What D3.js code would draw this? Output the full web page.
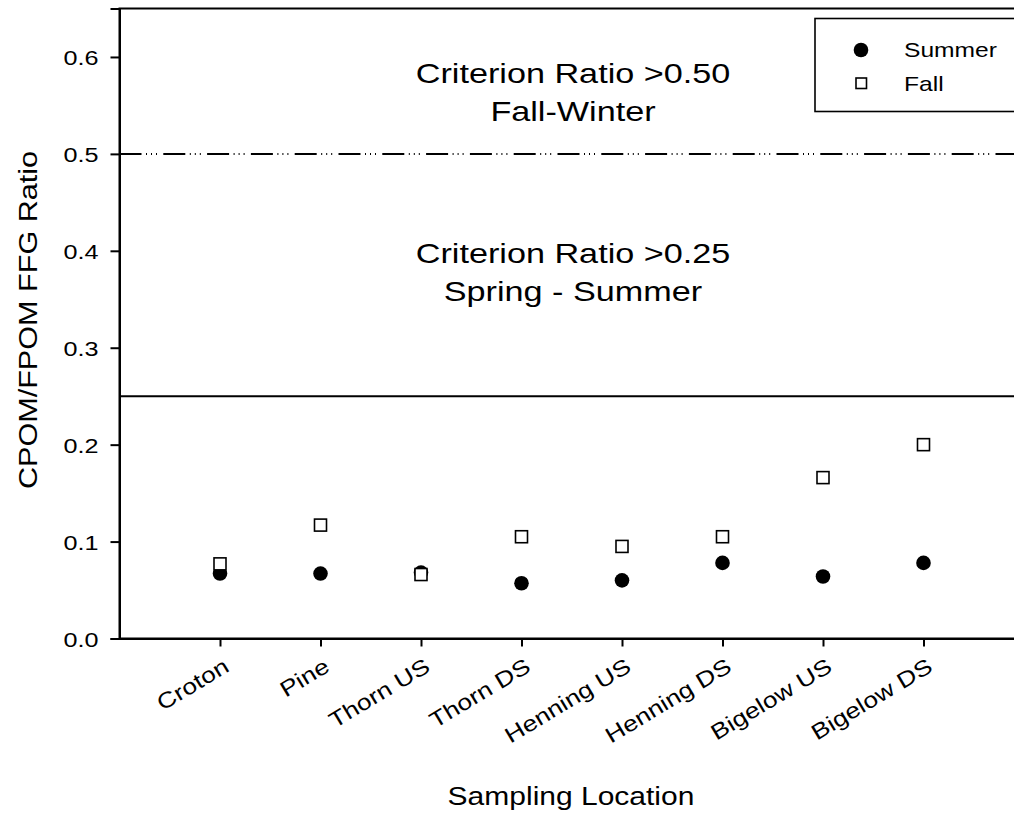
<!DOCTYPE html>
<html>
<head>
<meta charset="utf-8">
<script src="https://cdn.jsdelivr.net/npm/d3@7"></script>
<style>
  html, body { margin: 0; padding: 0; background: #fff; }
  svg { display: block; }
  text { font-family: "Liberation Sans", Arial, Helvetica, sans-serif; fill: #000; }
</style>
</head>
<body>
<svg id="chart" width="1014" height="819"></svg>
<script>
// Sampling sites along the x axis
const locations = ["Croton", "Pine", "Thorn US", "Thorn DS", "Henning US", "Henning DS", "Bigelow US", "Bigelow DS"];
// CPOM/FPOM functional feeding group ratios
const summerRatio = [0.067, 0.067, 0.068, 0.057, 0.060, 0.078, 0.064, 0.078];
const fallRatio   = [0.077, 0.117, 0.066, 0.105, 0.095, 0.105, 0.166, 0.200];
// Y axis ticks
const yTicks = [0.0, 0.1, 0.2, 0.3, 0.4, 0.5, 0.6];
// Seasonal criterion thresholds
const springSummerCriterion = 0.25;
const fallWinterCriterion = 0.50;
const seriesNames = ["Summer", "Fall"];

const svg = d3.select("#chart");
const STRETCH = 1.2; // glyphs are drawn wide

const plotLeft = 119.5, plotRight = 1024, plotTop = 8.5, plotBottom = 638.5;

const x = d3.scaleLinear().domain([0, locations.length + 1]).range([plotLeft, plotRight]);
const y = d3.scaleLinear().domain([0, 0.65]).range([plotBottom, plotTop]);

function wideText(g, str, tx, ty, size, anchor, rot) {
  return g.append("text")
    .attr("transform", `translate(${tx},${ty}) rotate(${rot || 0}) scale(${STRETCH},1)`)
    .attr("text-anchor", anchor)
    .style("font-size", size + "px")
    .text(str);
}

// Frame
svg.append("rect")
  .attr("x", plotLeft).attr("y", y(0.65))
  .attr("width", plotRight - plotLeft).attr("height", plotBottom - y(0.65))
  .attr("fill", "none").attr("stroke", "#000").attr("stroke-width", 2);

// Criterion lines
svg.append("line")
  .attr("x1", plotLeft).attr("x2", plotRight)
  .attr("y1", y(springSummerCriterion)).attr("y2", y(springSummerCriterion))
  .attr("stroke", "#000").attr("stroke-width", 2);
svg.append("line")
  .attr("x1", plotLeft).attr("x2", plotRight)
  .attr("y1", y(fallWinterCriterion)).attr("y2", y(fallWinterCriterion))
  .attr("stroke", "#000").attr("stroke-width", 2)
  .attr("stroke-dasharray", "22,4.5,1,4,1,4,1,6.3");

// Y axis
const yAxis = svg.append("g")
  .attr("transform", `translate(${plotLeft},0)`)
  .call(d3.axisLeft(y).tickValues(yTicks).tickFormat(d3.format(".1f")).tickSize(9).tickPadding(0));
yAxis.select(".domain").attr("stroke-width", 2);
yAxis.selectAll(".tick line").attr("stroke-width", 2);
yAxis.selectAll(".tick text")
  .attr("x", null).attr("dy", "0.36em")
  .attr("transform", `translate(-21,0) scale(${STRETCH},1)`)
  .style("font-size", "21px").style("font-family", "Liberation Sans, Arial, sans-serif");

// X axis
const xAxis = svg.append("g")
  .attr("transform", `translate(0,${plotBottom})`)
  .call(d3.axisBottom(x).tickValues(d3.range(1, locations.length + 1))
    .tickFormat(i => locations[i - 1]).tickSize(8).tickSizeOuter(0));
xAxis.select(".domain").attr("stroke-width", 2);
xAxis.selectAll(".tick line").attr("stroke-width", 2);
xAxis.selectAll(".tick text")
  .attr("y", null).attr("dy", null)
  .attr("text-anchor", "end")
  .attr("transform", `translate(10,32) rotate(-31) scale(${STRETCH},1)`)
  .style("font-size", "22px").style("font-family", "Liberation Sans, Arial, sans-serif");

// Data points: summer as filled circles, fall as open squares drawn over them
const plot = svg.append("g");
plot.selectAll("circle.summer")
  .data(summerRatio)
  .join("circle")
  .attr("class", "summer")
  .attr("cx", (d, i) => x(i + 1))
  .attr("cy", d => y(d))
  .attr("r", 7.3)
  .attr("fill", "#000");

const sq = 12;
plot.selectAll("rect.fall")
  .data(fallRatio)
  .join("rect")
  .attr("class", "fall")
  .attr("x", (d, i) => x(i + 1) - sq / 2)
  .attr("y", d => y(d) - sq / 2)
  .attr("width", sq).attr("height", sq)
  .attr("fill", "#fff").attr("stroke", "#000").attr("stroke-width", 1.6);

// Criterion annotations
const mid = 573;
wideText(svg, "Criterion Ratio >0.50", mid, 83, 28.5, "middle");
wideText(svg, "Fall-Winter", mid, 121, 28.5, "middle");
wideText(svg, "Criterion Ratio >0.25", mid, 263, 28.5, "middle");
wideText(svg, "Spring - Summer", mid, 301, 28.5, "middle");

// Axis titles
wideText(svg, "CPOM/FPOM FFG Ratio", 37, 320, 25.5, "middle", -90);
wideText(svg, "Sampling Location", 571, 805, 25, "middle");

// Legend
const legend = svg.append("g");
legend.append("rect")
  .attr("x", 815).attr("y", 18.5).attr("width", 220).attr("height", 93)
  .attr("fill", "#fff").attr("stroke", "#000").attr("stroke-width", 1.6);
legend.append("circle").attr("cx", 861).attr("cy", 50).attr("r", 7.3).attr("fill", "#000");
legend.append("rect").attr("x", 856).attr("y", 78).attr("width", 10.5).attr("height", 10.5)
  .attr("fill", "#fff").attr("stroke", "#000").attr("stroke-width", 1.6);
wideText(legend, seriesNames[0], 904, 57, 20.5, "start");
wideText(legend, seriesNames[1], 904, 91, 20.5, "start");
</script>
</body>
</html>
